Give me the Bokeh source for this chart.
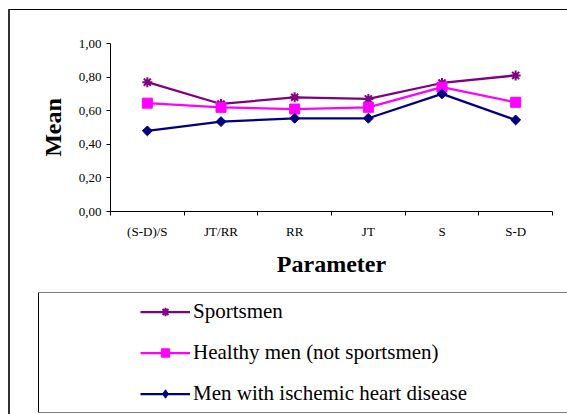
import math
from bokeh.plotting import figure
from bokeh.layouts import column, row
from bokeh.models import (Range1d, FixedTicker, CustomJSTickFormatter, Legend, LegendItem,
                          ColumnDataSource, Spacer)
from bokeh.embed import file_html
from bokeh.resources import INLINE

categories = ["(S-D)/S", "JT/RR", "RR", "JT", "S", "S-D"]
sportsmen = [0.77, 0.64, 0.68, 0.67, 0.765, 0.81]
healthy = [0.645, 0.62, 0.61, 0.62, 0.74, 0.65]
ischemic = [0.48, 0.535, 0.555, 0.555, 0.70, 0.545]
y_ticks = [0.0, 0.2, 0.4, 0.6, 0.8, 1.0]
series_names = ["Sportsmen", "Healthy men (not sportsmen)", "Men with ischemic heart disease"]
series_colors = ["#800080", "#FF00FF", "#000080"]

FONT = "Liberation Serif"

xs = [i + 0.5 for i in range(len(categories))]
bounds = list(range(len(categories) + 1))
src = ColumnDataSource(dict(x=xs, s=sportsmen, h=healthy, i=ischemic))

# ---------------- main chart ----------------
p = figure(width=557, height=282, output_backend="svg", toolbar_location=None,
           x_range=Range1d(0, len(categories)), y_range=Range1d(0, 1.0))
p.min_border_left = 100
p.min_border_right = 15
p.min_border_top = 33
p.min_border_bottom = 81
p.outline_line_color = None
p.xgrid.visible = False
p.ygrid.visible = False
p.background_fill_color = "white"
p.border_fill_color = "white"

xa = p.xaxis[0]
xa.ticker = FixedTicker(ticks=xs, minor_ticks=bounds)
xa.major_label_overrides = {x: c for x, c in zip(xs, categories)}
xa.major_tick_line_color = None
xa.major_tick_out = 0
xa.major_tick_in = 0
xa.minor_tick_out = 4
xa.minor_tick_in = 0
xa.minor_tick_line_color = "black"
xa.major_label_standoff = 8
xa.major_label_text_font = FONT
xa.major_label_text_font_size = "13px"
xa.major_label_text_color = "black"
xa.axis_line_color = "black"
xa.axis_label = "Parameter"
xa.axis_label_text_font = FONT
xa.axis_label_text_font_size = "24px"
xa.axis_label_text_font_style = "bold"
xa.axis_label_text_color = "black"
xa.axis_label_standoff = 9

ya = p.yaxis[0]
ya.ticker = FixedTicker(ticks=y_ticks, minor_ticks=[])
ya.formatter = CustomJSTickFormatter(code="return tick.toFixed(2).replace('.', ',');")
ya.major_tick_out = 4
ya.major_tick_in = 0
ya.minor_tick_line_color = None
ya.major_label_standoff = 5
ya.major_label_text_font = FONT
ya.major_label_text_font_size = "13px"
ya.major_label_text_color = "black"
ya.axis_line_color = "black"
ya.axis_label = "Mean"
ya.axis_label_text_font = FONT
ya.axis_label_text_font_size = "24px"
ya.axis_label_text_font_style = "bold"
ya.axis_label_text_color = "black"
ya.axis_label_standoff = 10

p.line("x", "s", source=src, line_color=series_colors[0], line_width=2.25)
p.scatter("x", "s", source=src, marker="asterisk", size=10, line_color=series_colors[0], line_width=2)
p.line("x", "h", source=src, line_color=series_colors[1], line_width=2.25)
p.scatter("x", "h", source=src, marker="square", size=10, fill_color=series_colors[1], line_color=series_colors[1])
p.line("x", "i", source=src, line_color=series_colors[2], line_width=2.25)
p.scatter("x", "i", source=src, marker="square", angle=math.pi / 4, size=7,
          fill_color=series_colors[2], line_color=series_colors[2])

# ---------------- legend panel ----------------
lg = figure(width=528, height=119, output_backend="svg", toolbar_location=None,
            x_range=Range1d(0, len(categories)), y_range=Range1d(5, 6),
            x_axis_location=None, y_axis_location=None, min_border=0)
lg.outline_line_color = None
lg.grid.visible = False
lg.background_fill_color = "white"
lg.border_fill_color = "white"

r1 = [lg.line("x", "s", source=src, line_color=series_colors[0], line_width=2.25),
      lg.scatter("x", "s", source=src, marker="asterisk", size=10, line_color=series_colors[0], line_width=2)]
r2 = [lg.line("x", "h", source=src, line_color=series_colors[1], line_width=2.25),
      lg.scatter("x", "h", source=src, marker="square", size=10, fill_color=series_colors[1], line_color=series_colors[1])]
r3 = [lg.line("x", "i", source=src, line_color=series_colors[2], line_width=2.25),
      lg.scatter("x", "i", source=src, marker="diamond", size=10, fill_color=series_colors[2], line_color=series_colors[2])]

legend = Legend(items=[LegendItem(label=series_names[0], renderers=r1),
                       LegendItem(label=series_names[1], renderers=r2),
                       LegendItem(label=series_names[2], renderers=r3)],
                location=(101, 6))
legend.padding = 0
legend.margin = 0
legend.spacing = 16
legend.glyph_width = 50
legend.glyph_height = 21
legend.label_height = 21
legend.label_standoff = 3
legend.label_text_font = FONT
legend.label_text_font_size = "21px"
legend.label_text_color = "black"
legend.border_line_alpha = 0
legend.background_fill_alpha = 0
lg.add_layout(legend)

# ---------------- frame lines (chart area border, legend box) ----------------
def bar(w, h, color=None):
    if color is None:
        return Spacer(width=w, height=h)
    return Spacer(width=w, height=h, styles={"background-color": color})

legend_block = row(
    bar(28, 121),
    column(
        bar(529, 1, "#808080"),
        row(bar(1, 119, "#000000"), lg),
        bar(529, 1, "#808080"),
    ),
)

inner = column(bar(557, 1, "#000000"), p, legend_block)

root = column(
    bar(567, 9),
    row(bar(8, 405), bar(2, 405, "#333333"), inner),
)

open("out.html", "w").write(file_html(root, INLINE))
